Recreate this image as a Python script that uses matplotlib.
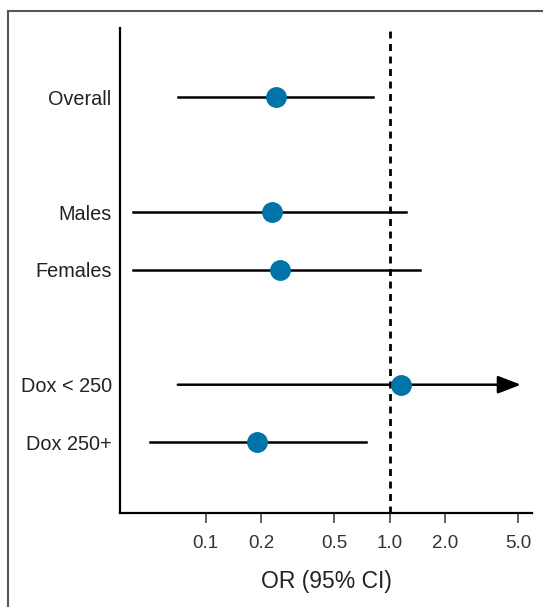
# -*- coding: utf-8 -*-

import matplotlib.pyplot as plt
from matplotlib.patches import Rectangle

groups = ['Overall', 'Males', 'Females', 'Dox < 250', 'Dox 250+']
rows = [0, 2, 3, 5, 6]
odds_ratio = [0.24, 0.228, 0.252, 1.15, 0.189]
ci_low = [0.0705, 0.040, 0.040, 0.0705, 0.050]
ci_high = [0.81, 1.22, 1.46, 5.15, 0.74]
ci_open = [False, False, False, True, False]

tick_values = [0.1, 0.2, 0.5, 1.0, 2.0, 5.0]
tick_labels = ['0.1', '0.2', '0.5', '1.0', '2.0', '5.0']

plt.rcParams['font.family'] = ['Liberation Sans', 'DejaVu Sans']

fig = plt.figure(figsize=(5.43, 6.07), dpi=100)
# page frame (left / top edges of the figure box)
fig.patches.append(Rectangle((8 / 543, -0.1), 1.2, (607 - 11) / 607 + 0.1,
                             transform=fig.transFigure, fill=False,
                             edgecolor='#555555', linewidth=1.5))

ax = fig.add_axes([120 / 543, (607 - 513) / 607, (532 - 120) / 543, (513 - 28) / 607])
ax.set_xscale('log')

ax.axvline(1.0, color='black', linewidth=2, linestyle=(0, (2.5, 2)), zorder=1)

for y, est, lo, hi, open_end in zip(rows, odds_ratio, ci_low, ci_high, ci_open):
    if open_end:
        ax.annotate('', xy=(hi, y), xytext=(lo, y),
                    arrowprops=dict(arrowstyle='-|>,head_length=0.7,head_width=0.27',
                                    color='black', lw=1.8,
                                    mutation_scale=20, shrinkA=0, shrinkB=0),
                    zorder=2)
    else:
        ax.plot([lo, hi], [y, y], color='black', linewidth=1.8, zorder=2)
    ax.plot(est, y, 'o', color='#0073A8', markersize=14, zorder=3)

ax.set_xlim(0.0342, 5.92)
ax.set_ylim(7.23, -1.2)

ax.set_xticks(tick_values)
ax.set_xticklabels(tick_labels)
ax.xaxis.set_minor_locator(plt.NullLocator())
ax.tick_params(axis='x', length=7, width=1.3, color='#555555', labelsize=13.5,
               labelcolor='#333333', pad=9)

ax.set_yticks(rows)
ax.set_yticklabels(groups)
ax.tick_params(axis='y', length=0, labelsize=14.3, labelcolor='#222222', pad=6)

ax.set_xlabel('OR (95% CI)', fontsize=16.5, color='#222222', labelpad=13)

for side in ['top', 'right']:
    ax.spines[side].set_visible(False)
for side in ['left', 'bottom']:
    ax.spines[side].set_linewidth(1.6)

plt.savefig('out.png', dpi=100)
plt.close()
